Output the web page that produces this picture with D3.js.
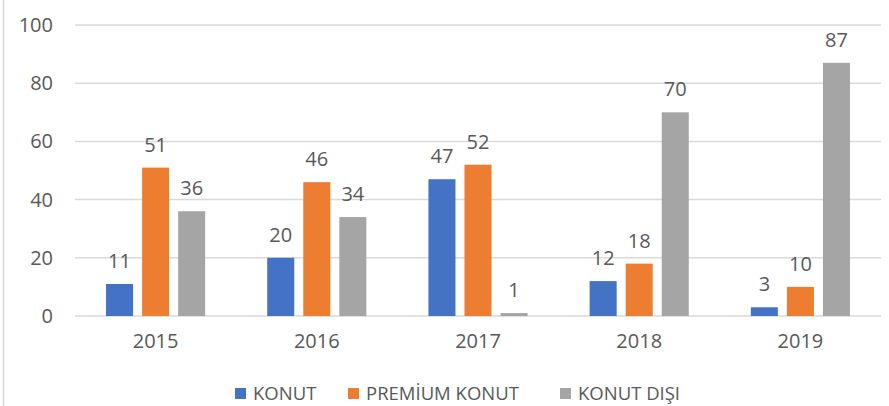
<!DOCTYPE html>
<html>
<head>
<meta charset="utf-8">
<script src="https://cdn.jsdelivr.net/npm/d3@7"></script>
<style>
  body { margin: 0; background: #fff; }
  text { font-family: "Open Sans", "Noto Sans", sans-serif; fill: #595959; }
</style>
</head>
<body>
<div id="chart-area"></div>
<script>
// data
const years = ["2015", "2016", "2017", "2018", "2019"]
const seriesNames = ["KONUT", "PREMİUM KONUT", "KONUT DIŞI"]
const konut = [11, 20, 47, 12, 3]
const premiumKonut = [51, 46, 52, 18, 10]
const konutDisi = [36, 34, 1, 70, 87]
const yTicks = [0, 20, 40, 60, 80, 100]
const colors = ["#4472C4", "#ED7D31", "#A5A5A5"]

const seriesValues = [konut, premiumKonut, konutDisi]

const W = 889, H = 406
const MARGIN = { LEFT: 75, RIGHT: 8, TOP: 25, BOTTOM: 90 }
const WIDTH = W - MARGIN.LEFT - MARGIN.RIGHT
const HEIGHT = H - MARGIN.TOP - MARGIN.BOTTOM

const svg = d3.select("#chart-area").append("svg")
    .attr("width", W)
    .attr("height", H)

// chart frame left edge
svg.append("line")
    .attr("x1", 3.5).attr("x2", 3.5)
    .attr("y1", 0).attr("y2", H)
    .attr("stroke", "#d9d9d9")
    .attr("stroke-width", 1.5)

const g = svg.append("g")
    .attr("transform", `translate(${MARGIN.LEFT}, ${MARGIN.TOP})`)

// scales
const x0 = d3.scaleBand().domain(years).range([0, WIDTH]).padding(0)
const groupW = x0.bandwidth() * 0.615
const x1 = d3.scaleBand().domain(d3.range(3))
    .range([(x0.bandwidth() - groupW) / 2, (x0.bandwidth() + groupW) / 2])
    .paddingInner(0.25)
const y = d3.scaleLinear().domain([0, 100]).range([HEIGHT, 0])

// gridlines
g.append("g")
    .selectAll("line")
    .data(yTicks)
    .join("line")
    .attr("x1", 0)
    .attr("x2", WIDTH)
    .attr("y1", d => y(d))
    .attr("y2", d => y(d))
    .attr("stroke", "#d9d9d9")
    .attr("stroke-width", 1.5)

// y axis labels
const yAxis = g.append("g")
    .attr("transform", "translate(-22, 0)")
    .call(d3.axisLeft(y).tickValues(yTicks).tickSize(0).tickPadding(0))
yAxis.select(".domain").remove()
yAxis.selectAll("text")
    .attr("font-size", "20px")
    .attr("font-family", "Open Sans")
    .attr("fill", "#595959")

// x axis labels
const xAxis = g.append("g")
    .attr("transform", `translate(0, ${HEIGHT})`)
    .call(d3.axisBottom(x0).tickSize(0).tickPadding(18))
xAxis.select(".domain").remove()
xAxis.selectAll("text")
    .attr("font-size", "20px")
    .attr("font-family", "Open Sans")
    .attr("fill", "#595959")

// bars
const groups = g.selectAll(".year")
    .data(years)
    .join("g")
    .attr("class", "year")
    .attr("transform", d => `translate(${x0(d)}, 0)`)

groups.selectAll("rect")
    .data((d, i) => seriesValues.map((s, k) => ({ k: k, v: s[i] })))
    .join("rect")
    .attr("x", d => x1(d.k))
    .attr("width", x1.bandwidth())
    .attr("y", d => y(d.v))
    .attr("height", d => y(0) - y(d.v))
    .attr("fill", d => colors[d.k])

groups.selectAll(".val")
    .data((d, i) => seriesValues.map((s, k) => ({ k: k, v: s[i] })))
    .join("text")
    .attr("class", "val")
    .attr("x", d => x1(d.k) + x1.bandwidth() / 2)
    .attr("y", d => y(d.v) - 16)
    .attr("text-anchor", "middle")
    .attr("font-size", "20px")
    .text(d => d.v)

// legend
const legendX = [235, 348, 560]
const legend = svg.append("g")
    .selectAll("g")
    .data(seriesNames)
    .join("g")
    .attr("transform", (d, i) => `translate(${legendX[i]}, 388)`)
legend.append("rect")
    .attr("width", 11)
    .attr("height", 11)
    .attr("fill", (d, i) => colors[i])
legend.append("text")
    .attr("x", 18)
    .attr("y", 11.5)
    .attr("font-size", "18.5px")
    .text(d => d)
</script>
</body>
</html>
